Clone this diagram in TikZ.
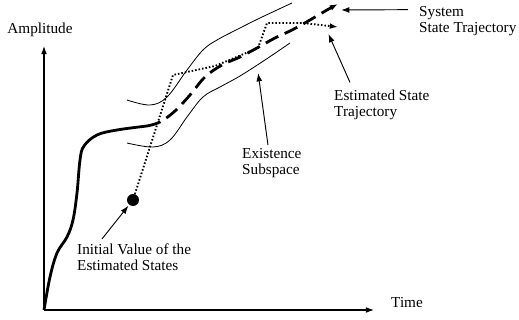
\documentclass[tikz,border=0pt]{standalone}
\usepackage{fontspec}
\setmainfont{Liberation Serif}
\usetikzlibrary{arrows.meta}

\begin{document}
\begin{tikzpicture}[
 x=0.03cm, y=-0.03cm,
 >={Latex[length=7pt,width=5pt]},
 font=\fontsize{13}{13.5}\selectfont,
 note/.style={align=left,inner sep=0pt,anchor=west},
 pointer/.style={->,line width=0.8pt,shorten >=1pt},
 axis-line/.style={->,line width=0.9pt},
 tube/.style={line width=0.7pt},
 system/.style={line width=2.4pt},
 estimate/.style={line width=1.6pt,dash pattern=on 1.3pt off 1.7pt}
]
\useasboundingbox (0,0) rectangle (519,320);
\coordinate (origin) at (44,310);
\coordinate (amp-end) at (44,46);
\coordinate (time-end) at (374,310);
\coordinate (sys-tip) at (340,10);
\coordinate (est-tip) at (328,33);
\coordinate (tube-tip) at (258,72);
\node (amp-label) [note,anchor=center] at (40,30) {Amplitude};
\node (time-label) [note] at (391,303) {Time};
\node (sys-label) [note] at (419,21.5) {System\\State Trajectory};
\node (est-label) [note] at (334,104.5) {Estimated State\\Trajectory};
\node (tube-label) [note] at (242,163) {Existence\\Subspace};
\node (init-label) [note] at (77,257.5) {Initial Value of the\\Estimated States};
\node (init-dot) [circle,fill,inner sep=0pt,minimum size=0.36cm] at (133,200) {};
\draw[axis-line] (origin) -- (amp-end);
\draw[axis-line] (origin) -- (time-end);
\draw[tube] plot[smooth,tension=0.6] coordinates {(127,100) (150,105) (167,97) (187,70) (203,50) (217,40) (240,28) (260,18) (292,3)};
\draw[tube] plot[smooth,tension=0.6] coordinates {(127,143) (153,147) (170,140) (187,117) (203,97) (220,87) (240,76) (265,60) (290,43)};
\draw[system] plot[smooth,tension=0.6] coordinates {(44,310) (50,277) (57,253) (67,237) (73,220) (77,193) (80,160) (84,146) (97,135) (117,130) (147,126)};
\draw[system,->,dash pattern=on 12pt off 6pt] plot[smooth,tension=0.6] coordinates {(147,126) (160,122) (175,111) (190,95) (205,77) (222,65) (240,57) (257,48) (275,38) (292,30) (310,20) (327,10) (338,4)};
\draw[estimate,->] (init-dot) -- (173,75) -- (215,66) -- (258,48) -- (267,23) -- (303,23) -- (338,27);
\draw[pointer] ([xshift=-0.33cm,yshift=-0.09cm]sys-label.north west) -- (sys-tip);
\draw[pointer] ([xshift=0.48cm,yshift=0.21cm]est-label.north west) -- (est-tip);
\draw[pointer] ([xshift=0.78cm,yshift=0.09cm]tube-label.north west) -- (tube-tip);
\draw[pointer] ([xshift=0.75cm,yshift=0.15cm]init-label.north west) -- (init-dot);
\end{tikzpicture}
\end{document}
